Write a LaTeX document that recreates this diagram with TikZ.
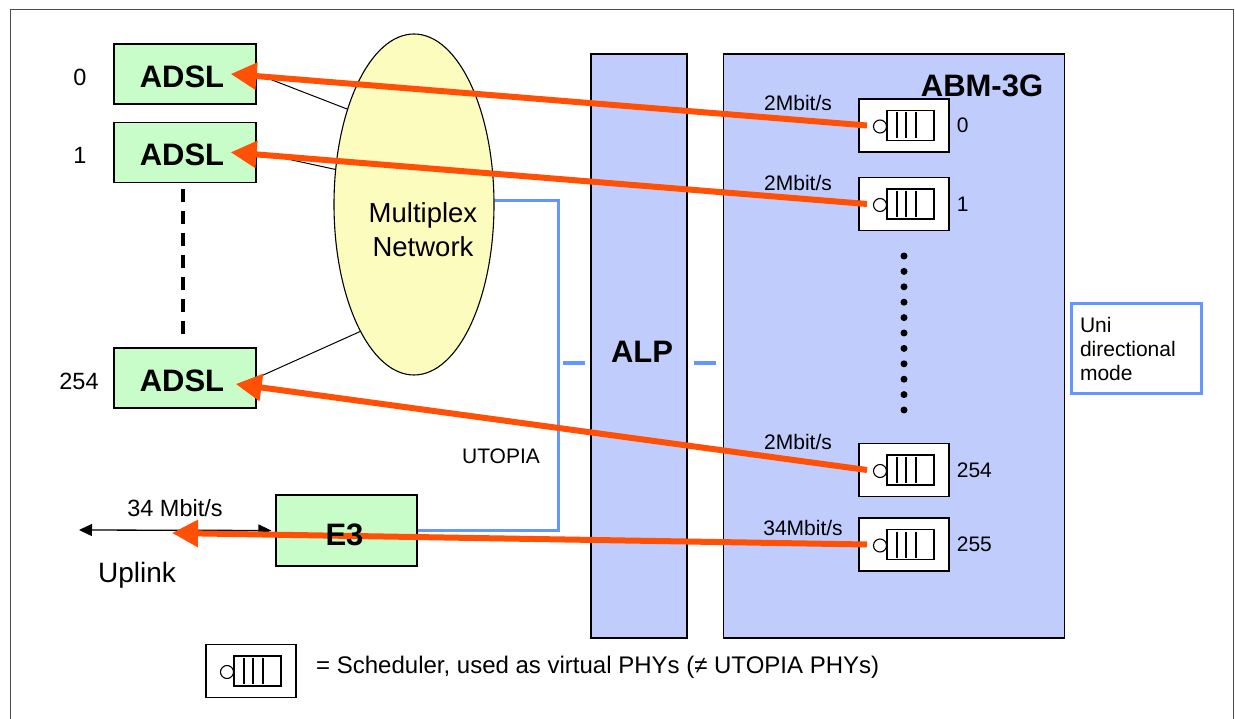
\documentclass[tikz,border=0pt]{standalone}
\usepackage{fontspec}
\setmainfont{Liberation Sans}
\usepackage{tikz}
\usetikzlibrary{positioning,shapes.geometric,arrows.meta}

\definecolor{adslgreen}{RGB}{200,252,200}
\definecolor{muxyellow}{RGB}{252,252,190}
\definecolor{chipblue}{RGB}{192,204,252}
\definecolor{utopiablue}{RGB}{100,150,255}
\definecolor{flowred}{RGB}{255,80,5}

\newcommand{\boxfont}{\fontsize{31}{36}\selectfont\bfseries}
\newcommand{\ratefont}{\fontsize{21}{24}\selectfont}
\newcommand{\sidefont}{\fontsize{23.5}{27}\selectfont}

% scheduler symbol (virtual PHY)
\tikzset{
  pics/sched/.style={code={
    \node[draw=black, line width=1.3pt, fill=white, minimum width=90pt, minimum height=53pt] (-box) at (0,0) {};
    \draw[line width=1.1pt] (-17,-15) rectangle (30,15);
    \foreach \x in {-7,2,12}
      \draw[line width=1.1pt] (\x,-13) -- (\x,13);
    \draw[line width=1.1pt, fill=white] (-24,1) circle (6.5pt);
    \coordinate (-in) at (-37,0);
  }}
}

\begin{document}
\begin{tikzpicture}[x=1pt, y=-1pt,
    adsl/.style={draw=black, line width=1.3pt, fill=adslgreen, minimum width=142pt, minimum height=60pt, inner sep=0pt, font=\boxfont},
    chip/.style={draw=black, line width=1.3pt, fill=chipblue, inner sep=0pt},
    link/.style={black, line width=1pt},
    utopia/.style={utopiablue, line width=3.5pt},
    flow/.style={flowred, line width=6pt, -{Triangle[length=26pt,width=26pt]}},
    rate/.style={font=\ratefont, inner sep=0pt},
  ]
    \useasboundingbox (0,0) rectangle (1235,719);
    \draw[gray!60!black, line width=1pt] (10,719) -- (10,10) -- (1233,10) -- (1233,719);

    % ADSL lines
    \node[adsl] (adsl0) at (185,74) {};
    \node[adsl, below=17pt of adsl0] (adsl1) {};
    \node[adsl] (adsl254) at (185,378) {};
    \foreach \a in {adsl0,adsl1,adsl254}
        \node[font=\boxfont] at ([xshift=-3pt,yshift=-3pt]\a.center) {ADSL};
    \node[font=\sidefont] at (80,77) {0};
    \node[font=\sidefont] at (80,155) {1};
    \node[font=\sidefont] at (79,381) {254};
    \draw[line width=4.5pt, dash pattern=on 13pt off 9pt] (adsl1.south) ++(-2,6) -- (183,334);

    % Multiplex network
    \node[ellipse, draw, line width=1.1pt, fill=muxyellow, minimum width=160pt, minimum height=341pt, inner sep=0pt] (mux) at (414,204.5) {};
    \node[align=center, font=\fontsize{27.5}{34}\selectfont] at ([xshift=9pt,yshift=-25pt]mux.center) {Multiplex\\Network};
    \draw[link] (adsl0.east) -- (mux.125);
    \draw[link] (adsl1.east) -- (mux.156);
    \draw[link] (adsl254.east) -- (mux.247);

    % Uplink
    \node[adsl, minimum width=141pt, minimum height=71pt] (e3) at (346.5,530.5) {};
    \coordinate (uplink) at (79,530);
    \draw[link, line width=1.3pt, {Triangle[length=13pt,width=12pt]}-{Triangle[length=13pt,width=12pt]}] (uplink) -- ([xshift=-4pt]e3.west);
    \node[font=\sidefont] at (175,508) {34 Mbit/s};
    \node[font=\fontsize{28}{32}\selectfont] at (137,575) {Uplink};

    % UTOPIA bus
    \draw[utopia] (mux.3) -- ++(64,0) |- (e3.east);
    \draw[utopia] (563,363) -- (585,363);
    \draw[utopia] (694,363) -- (716,363);
    \node[rate] at (501,456) {UTOPIA};

    % ALP and ABM-3G
    \node[chip, minimum width=96pt, minimum height=584pt] (alp) at (639,346) {};
    \node[font=\boxfont] at ([xshift=3pt,yshift=-6pt]alp.center) {ALP};
    \node[chip, minimum width=341pt, minimum height=584pt, right=35pt of alp] (abm) {};
    \node[font=\boxfont] at (982,86) {ABM-3G};
    \foreach \n/\y in {0/125.5, 1/204, 254/470, 255/544.5} {
        \pic (sch\n) at (904,\y) {sched};
        \node[rate, right=7pt of sch\n-box] {\n};
    }
    \node[rate] at (798,103) {2Mbit/s};
    \node[rate] at (798,183) {2Mbit/s};
    \node[rate] at (798,442) {2Mbit/s};
    \node[rate] at (803,528) {34Mbit/s};
    \foreach \i in {0,...,10}
        \fill (904,256+15.4*\i) circle (3.5pt);

    \node[draw=utopiablue, line width=3pt, fill=white, text width=112pt, inner xsep=9pt, minimum height=90pt, align=left, font=\ratefont] (uni) at (1136,349) {Uni\\directional\\mode};

    % traffic
    \coordinate (uptip) at (172,533);
    \draw[flow] (sch0-in) -- ([xshift=-26pt]adsl0.east);
    \draw[flow] (sch1-in) -- ([xshift=-26pt]adsl1.east);
    \draw[flow] (sch254-in) -- ([xshift=-21pt,yshift=-6pt]adsl254.east);
    \draw[flow] (sch255-in) -- (uptip);
    \node[font=\boxfont] at ([xshift=-2pt,yshift=-4pt]e3.center) {E3};

    % legend
    \pic (leg) at (251,671) {sched};
    \node[anchor=west, inner sep=0pt, font=\fontsize{24}{28}\selectfont] at (316,667) {= Scheduler, used as virtual PHYs (≠ UTOPIA PHYs)};
\end{tikzpicture}
\end{document}
